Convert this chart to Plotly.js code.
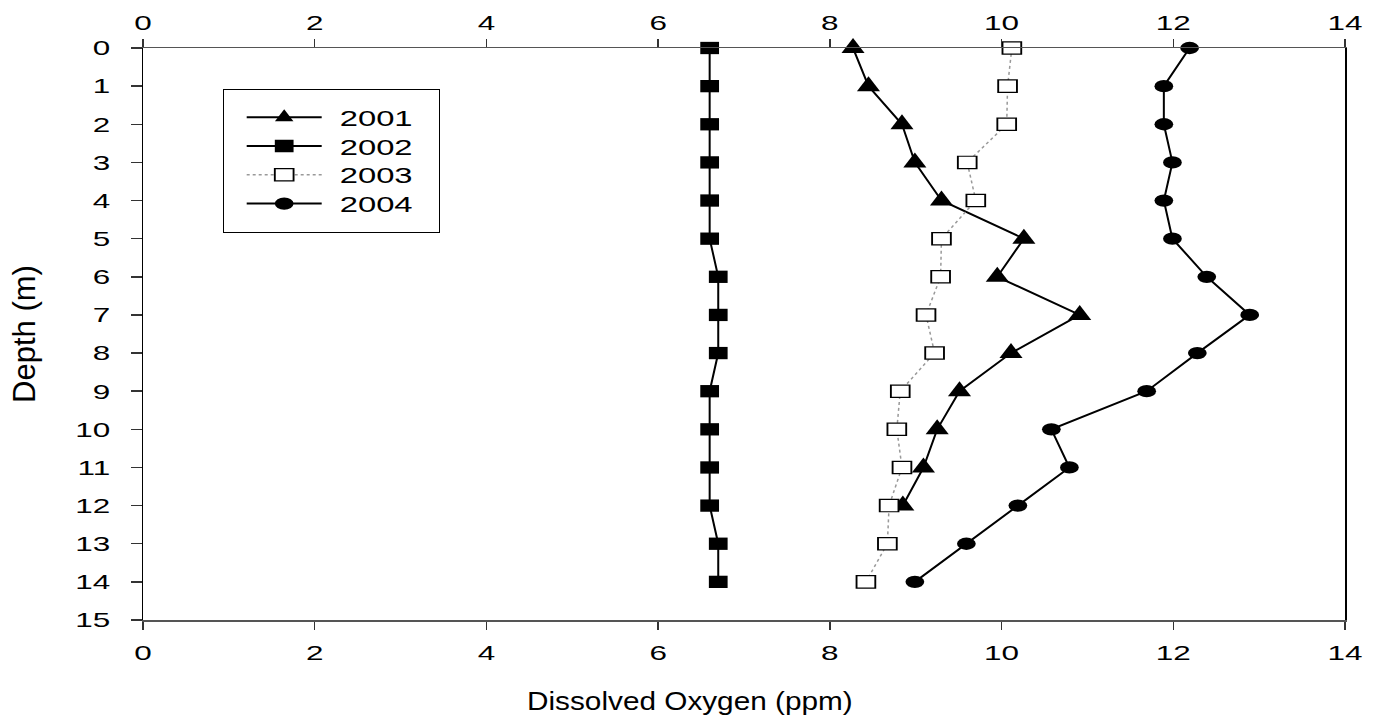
<!DOCTYPE html>
<html>
<head>
<meta charset="utf-8">
<script src="https://cdn.plot.ly/plotly-3.0.1.min.js"></script>
<style>
  html, body { margin: 0; padding: 0; background: #fff; }
  #chart { width: 1379px; height: 719px; }
</style>
</head>
<body>
<div id="chart"></div>
<script>
// Depth (m) for each measurement
const depth2001 = [0, 1, 2, 3, 4, 5, 6, 7, 8, 9, 10, 11, 12];
const depthAll  = [0, 1, 2, 3, 4, 5, 6, 7, 8, 9, 10, 11, 12, 13, 14];

// Dissolved oxygen (ppm)
const do2001 = [8.27, 8.45, 8.84, 8.99, 9.30, 10.26, 9.95, 10.91, 10.11, 9.51, 9.25, 9.09, 8.85];
const do2002 = [6.60, 6.60, 6.60, 6.60, 6.60, 6.60, 6.70, 6.70, 6.70, 6.60, 6.60, 6.60, 6.60, 6.70, 6.70];
const do2003 = [10.12, 10.07, 10.06, 9.60, 9.70, 9.30, 9.29, 9.12, 9.22, 8.82, 8.78, 8.84, 8.69, 8.67, 8.42];
const do2004 = [12.19, 11.89, 11.89, 11.99, 11.89, 11.99, 12.39, 12.89, 12.28, 11.69, 10.58, 10.79, 10.19, 9.59, 8.99];

const seriesNames = ["2001", "2002", "2003", "2004"];
const xTickVals = [0, 2, 4, 6, 8, 10, 12, 14];
const yTickVals = [0, 1, 2, 3, 4, 5, 6, 7, 8, 9, 10, 11, 12, 13, 14, 15];

const FONT = "Liberation Sans, Arial, sans-serif";

const traces = [
  {
    x: do2001, y: depth2001, name: seriesNames[0], type: "scatter", mode: "lines+markers",
    cliponaxis: false,
    line: { color: "#000", width: 2 },
    marker: { symbol: "triangle-up", size: 20, color: "#000" }
  },
  {
    x: do2002, y: depthAll, name: seriesNames[1], type: "scatter", mode: "lines+markers",
    cliponaxis: false,
    line: { color: "#000", width: 2 },
    marker: { symbol: "square", size: 15, color: "#000" }
  },
  {
    x: do2003, y: depthAll, name: seriesNames[2], type: "scatter", mode: "lines+markers",
    cliponaxis: false,
    line: { color: "#999", width: 1.5, dash: "dot" },
    marker: { symbol: "square", size: 15, color: "#fff", line: { color: "#000", width: 1.5 } }
  },
  {
    x: do2004, y: depthAll, name: seriesNames[3], type: "scatter", mode: "lines+markers",
    cliponaxis: false,
    line: { color: "#000", width: 2 },
    marker: { symbol: "circle", size: 15, color: "#000" }
  }
];

const layout = {
  width: 1379, height: 719,
  paper_bgcolor: "#fff", plot_bgcolor: "#fff",
  margin: { l: 143, r: 34, t: 48, b: 99, pad: 0 },
  showlegend: true,
  font: { family: FONT, color: "#000" },
  xaxis: {
    range: [0, 14], tickvals: xTickVals, ticktext: xTickVals.map(String),
    showgrid: false, zeroline: false,
    showline: true, linecolor: "#555", linewidth: 1.5, mirror: true,
    ticks: "outside", ticklen: 8, tickcolor: "#333", tickwidth: 1.5,
    ticklabelstandoff: 5,
    tickfont: { family: FONT, size: 21, color: "#000" }
  },
  xaxis2: {
    overlaying: "x", side: "top", anchor: "y", matches: "x",
    range: [0, 14], tickvals: xTickVals, ticktext: xTickVals.map(String),
    showgrid: false, zeroline: false, showline: false,
    ticks: "outside", ticklen: 8, tickcolor: "#333", tickwidth: 1.5,
    ticklabelstandoff: 1,
    tickfont: { family: FONT, size: 21, color: "#000" }
  },
  yaxis: {
    range: [15, 0], tickvals: yTickVals, ticktext: yTickVals.map(String),
    showgrid: false, zeroline: false,
    showline: true, linecolor: "#000", linewidth: 1.5, mirror: true,
    ticks: "outside", ticklen: 11, tickcolor: "#333", tickwidth: 1.5,
    ticklabelstandoff: 16,
    tickfont: { family: FONT, size: 21, color: "#000" },
    title: {
      text: "Depth (m)", standoff: 42,
      font: { family: "Liberation Sans Narrow, Arial Narrow, Liberation Sans, sans-serif", size: 31, color: "#000" }
    }
  },
  legend: {
    x: 0.0663, y: 0.928, xanchor: "left", yanchor: "top",
    bgcolor: "#fff", bordercolor: "#000", borderwidth: 1,
    font: { family: FONT, size: 22, color: "#000" },
    tracegroupgap: 0
  },
  annotations: [
    {
      text: "Dissolved Oxygen (ppm)", xref: "paper", yref: "paper",
      x: 0.455, y: -0.1415, xanchor: "center", yanchor: "middle",
      showarrow: false, font: { family: FONT, size: 25, color: "#000" }
    }
  ]
};

// marker-less copy of 2004 bound to x2 so the top axis is drawn
traces.push({
  x: do2004, y: depthAll, xaxis: "x2", yaxis: "y", type: "scatter", mode: "none",
  showlegend: false, hoverinfo: "skip"
});

// Styling helpers: the original figure uses horizontally stretched lettering and markers
const MARKER_STRETCH = " scale(1.25,0.82)";
const stretchedSeries = [1, 2, 3];

function stretch(root, sel, f) {
  root.querySelectorAll(sel).forEach(t => {
    const w = t.getComputedTextLength();
    if (w > 0) {
      t.setAttribute("textLength", (w * f).toFixed(1));
      t.setAttribute("lengthAdjust", "spacingAndGlyphs");
    }
  });
}

function stretchMarkers(gd) {
  const groups = gd.querySelectorAll("g.scatterlayer g.trace");
  groups.forEach((g, i) => {
    if (stretchedSeries.indexOf(i) < 0) return;
    g.querySelectorAll("path.point").forEach(p => {
      const tr = p.getAttribute("transform") || "";
      p.setAttribute("transform", tr + MARKER_STRETCH);
    });
  });
}

function styleLegend(gd) {
  const leg = gd.querySelector("g.legend");
  if (!leg) return;
  const boxW = 216, boxH = 143, rowTop = 28, rowStep = 28.8;
  const bg = leg.querySelector("rect.bg");
  if (bg) { bg.setAttribute("width", boxW); bg.setAttribute("height", boxH); }
  gd.querySelectorAll("clipPath").forEach(cp => {
    if ((cp.id || "").indexOf("legend") === 0) {
      const r = cp.querySelector("rect");
      if (r) { r.setAttribute("width", boxW); r.setAttribute("height", boxH); }
    }
  });
  leg.querySelectorAll("g.traces").forEach((g, i) => {
    g.setAttribute("transform", "translate(1," + (rowTop + i * rowStep) + ")");
    g.querySelectorAll("g.legendlines path").forEach(p => p.setAttribute("d", "M23,0h75"));
    g.querySelectorAll("g.legendpoints path").forEach(p => {
      p.setAttribute("transform", "translate(60.5,0)" + (stretchedSeries.indexOf(i) >= 0 ? MARKER_STRETCH : ""));
    });
    const t = g.querySelector("text.legendtext");
    if (t) t.setAttribute("x", 116);
  });
  stretch(leg, "text.legendtext", 1.49);
}

Plotly.newPlot("chart", traces, layout, { displayModeBar: false, staticPlot: true }).then(gd => {
  stretch(gd, "g.xtick text", 1.5);
  stretch(gd, "g.x2tick text", 1.5);
  stretch(gd, "g.ytick text", 1.5);
  stretch(gd, "g.annotation text", 1.19);
  stretchMarkers(gd);
  styleLegend(gd);
});
</script>
</body>
</html>
